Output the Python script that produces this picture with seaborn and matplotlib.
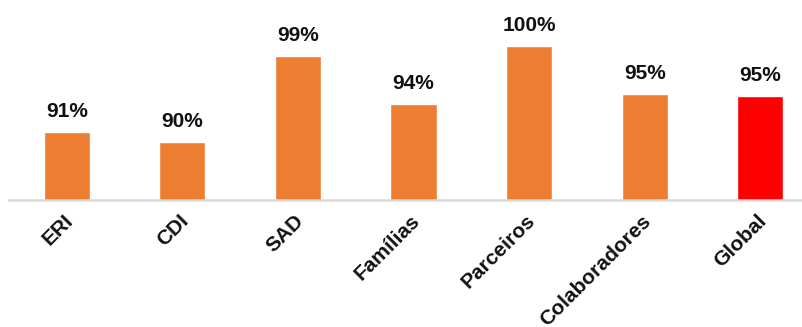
import matplotlib
matplotlib.use("Agg")
import matplotlib.pyplot as plt
import matplotlib.transforms as mtransforms
import seaborn as sns
import pandas as pd

categories = ["ERI", "CDI", "SAD", "Famílias", "Parceiros", "Colaboradores", "Global"]
values = [91, 90, 99, 94, 100, 95, 94.8]
colors = ["#ED7D31", "#ED7D31", "#ED7D31", "#ED7D31", "#ED7D31", "#ED7D31", "#FF0000"]

sns.set_theme(style="white")
plt.rcParams["font.family"] = ["Liberation Sans", "DejaVu Sans"]

df = pd.DataFrame({"cat": categories, "val": values})

fig = plt.figure(figsize=(8.03, 3.27), dpi=100)
ax = fig.add_axes([9 / 803, (327 - 200) / 327, 1 - 9 / 803, 200 / 327])

sns.barplot(data=df, x="cat", y="val", hue="cat", palette=colors, width=0.4,
            legend=False, ax=ax, saturation=1)

ax.set_ylim(83.93, 104.85)
ax.set_xlim(-0.5, 6.37)

for p, v in zip(ax.patches, values):
    ax.annotate(f"{v:.0f}%", (p.get_x() + p.get_width() / 2, p.get_height()),
                xytext=(0, 8), textcoords="offset points", ha="center", va="bottom",
                fontsize=15, fontweight="bold", color="#111111")

ax.set_xlabel("")
ax.set_ylabel("")
ax.set_yticks([])
for s in ["top", "right", "left"]:
    ax.spines[s].set_visible(False)
ax.spines["bottom"].set_color("#D9D9D9")
ax.spines["bottom"].set_linewidth(1.8)
ax.tick_params(axis="x", length=0, pad=13)
ax.set_xticks(range(len(categories)))
ax.set_xticklabels(categories, rotation=45, ha="right", va="center",
                   rotation_mode="anchor", fontsize=15, fontweight="bold", color="#111111")
offset = mtransforms.ScaledTranslation(0.03, 0, fig.dpi_scale_trans)
for lbl in ax.get_xticklabels():
    lbl.set_transform(lbl.get_transform() + offset)

fig.savefig("out.png", dpi=100)
